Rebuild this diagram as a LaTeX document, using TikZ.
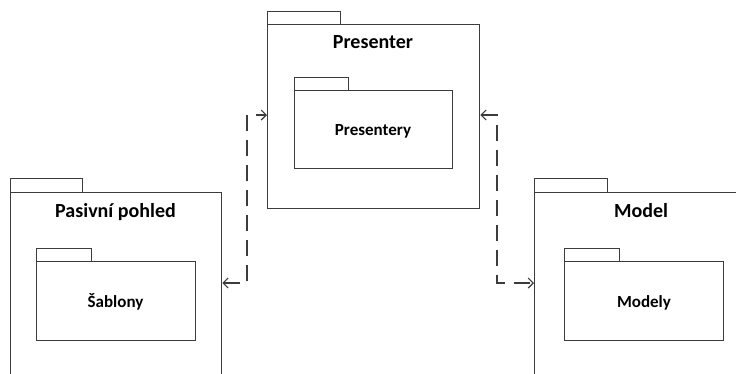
\documentclass[tikz,border=0pt]{standalone}
\usepackage{fontspec}
\setmainfont{Carlito}
\usetikzlibrary{arrows.meta,calc}
\definecolor{linegray}{HTML}{3C3C3C}
\tikzset{
  pkg/.style={draw=linegray, line width=1.4pt, fill=white, inner sep=0pt, anchor=north west},
  title/.style={font=\fontsize{20}{24}\selectfont\bfseries, anchor=base, inner sep=0pt},
  subtitle/.style={font=\fontsize{17}{20}\selectfont\bfseries, anchor=base, inner sep=0pt},
  dep/.style={draw=linegray, line width=1.3pt, dash pattern=on 16pt off 9pt,
    {Straight Barb[length=5pt,width=10pt,line width=1.1pt]}-{Straight Barb[length=5pt,width=10pt,line width=1.1pt]}}
}
\begin{document}
\begin{tikzpicture}[x=1pt,y=-1pt]
\useasboundingbox (0,0) rectangle (736,373);
\clip (0,0) rectangle (736,373);
% Presenter package
\node[pkg, minimum width=73pt, minimum height=13pt] (prestab) at (267,11) {};
\node[pkg, minimum width=212pt, minimum height=184pt] (pres) at (267,24) {};
\node[title] (prestitle) at (373,48) {Presenter};
\node[pkg, minimum width=54pt, minimum height=13pt] (prestab2) at (294,77) {};
\node[pkg, minimum width=158pt, minimum height=78pt] (presin) at (294,90) {};
\node[subtitle] (presintext) at (373,135.5) {Presentery};
% Pasivni pohled package
\node[pkg, minimum width=72pt, minimum height=14pt] (pasivtab) at (10,178) {};
\node[pkg, minimum width=211pt, minimum height=220pt] (pasiv) at (10,192) {};
\node[title] (pasivtitle) at (115.5,217) {Pasivní pohled};
\node[pkg, minimum width=55pt, minimum height=13pt] (sabltab) at (36,248) {};
\node[pkg, minimum width=159pt, minimum height=79pt] (sabl) at (36,261) {};
\node[subtitle] (sabltext) at (115.5,307) {Šablony};
% Model package
\node[pkg, minimum width=73pt, minimum height=14pt] (modeltab) at (534,178) {};
\node[pkg, minimum width=220pt, minimum height=220pt] (model) at (534,192) {};
\node[title] (modeltitle) at (641,217) {Model};
\node[pkg, minimum width=55pt, minimum height=13pt] (modeltab2) at (564,248) {};
\node[pkg, minimum width=159pt, minimum height=79pt] (modelin) at (564,261) {};
\node[subtitle] (modeltext) at (644,307) {Modely};
% connectors
\coordinate (l1) at (247,283);
\coordinate (l2) at (247,115);
\coordinate (r1) at (497,115);
\coordinate (r2) at (497,283);
\draw[dep] (pasiv.east |- l1) -- (l1) -- (l2) -- (pres.west |- l2);
\draw[dep] (pres.east |- r1) -- (r1) -- (r2) -- (model.west |- r2);
\end{tikzpicture}
\end{document}
